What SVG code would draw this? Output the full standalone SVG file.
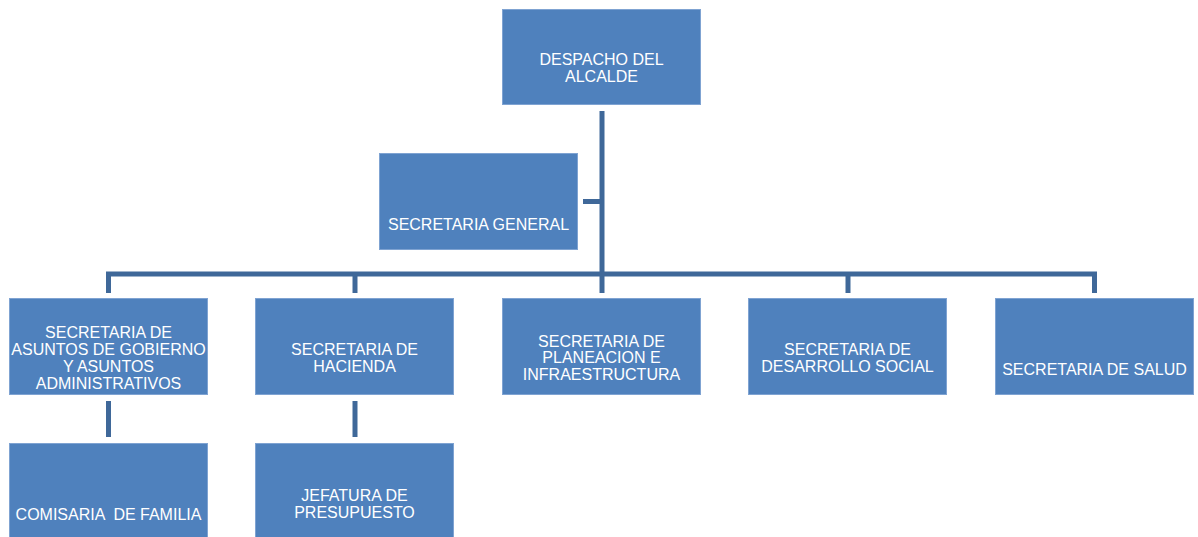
<svg xmlns="http://www.w3.org/2000/svg" width="1198" height="537" viewBox="0 0 1198 537">
<style>
.box{fill:#4F81BD;stroke:#7FA3D2;stroke-width:1}
.t{font-family:"Liberation Sans",Arial,sans-serif;font-size:16px;fill:#FFFFFF;text-anchor:middle}
.c{fill:none;stroke:#3F6899;stroke-width:5;stroke-linecap:butt;stroke-linejoin:miter}
</style>
<rect width="1198" height="537" fill="#FFFFFF"/>
<g id="connectors">
<path class="c" d="M602 111V293"/>
<path class="c" d="M583 201.5H602"/>
<path class="c" d="M108.5 293V274H1094.5V293"/>
<path class="c" d="M355 274V293"/>
<path class="c" d="M848 274V293"/>
<path class="c" d="M108.5 401V437"/>
<path class="c" d="M355 401V437"/>
</g>
<g id="despacho">
<rect class="box" x="502.5" y="9.5" width="198" height="95"/>
<text class="t" x="601.5" y="65">DESPACHO DEL</text>
<text class="t" x="601.5" y="81.5">ALCALDE</text>
</g>
<g id="secretaria-general">
<rect class="box" x="379.5" y="153.5" width="198" height="96"/>
<text class="t" x="478.5" y="230">SECRETARIA GENERAL</text>
</g>
<g id="gobierno">
<rect class="box" x="9.5" y="298.5" width="198" height="96"/>
<text class="t" x="108.5" y="337.5">SECRETARIA DE</text>
<text class="t" x="108.5" y="354.5">ASUNTOS DE GOBIERNO</text>
<text class="t" x="108.5" y="371.5">Y ASUNTOS</text>
<text class="t" x="108.5" y="388.5">ADMINISTRATIVOS</text>
</g>
<g id="hacienda">
<rect class="box" x="255.5" y="298.5" width="198" height="96"/>
<text class="t" x="354.5" y="355">SECRETARIA DE</text>
<text class="t" x="354.5" y="371.5">HACIENDA</text>
</g>
<g id="planeacion">
<rect class="box" x="502.5" y="298.5" width="198" height="96"/>
<text class="t" x="601.5" y="346.5">SECRETARIA DE</text>
<text class="t" x="601.5" y="363">PLANEACION E</text>
<text class="t" x="601.5" y="379.5">INFRAESTRUCTURA</text>
</g>
<g id="desarrollo">
<rect class="box" x="748.5" y="298.5" width="198" height="96"/>
<text class="t" x="847.5" y="355">SECRETARIA DE</text>
<text class="t" x="847.5" y="371.5">DESARROLLO SOCIAL</text>
</g>
<g id="salud">
<rect class="box" x="995.5" y="298.5" width="198" height="96"/>
<text class="t" x="1094.5" y="375">SECRETARIA DE SALUD</text>
</g>
<g id="comisaria">
<rect class="box" x="9.5" y="443.5" width="198" height="96"/>
<text class="t" x="108.5" y="519.5" xml:space="preserve">COMISARIA  DE FAMILIA</text>
</g>
<g id="jefatura">
<rect class="box" x="255.5" y="443.5" width="198" height="96"/>
<text class="t" x="354.5" y="501">JEFATURA DE</text>
<text class="t" x="354.5" y="517.5">PRESUPUESTO</text>
</g>
</svg>
